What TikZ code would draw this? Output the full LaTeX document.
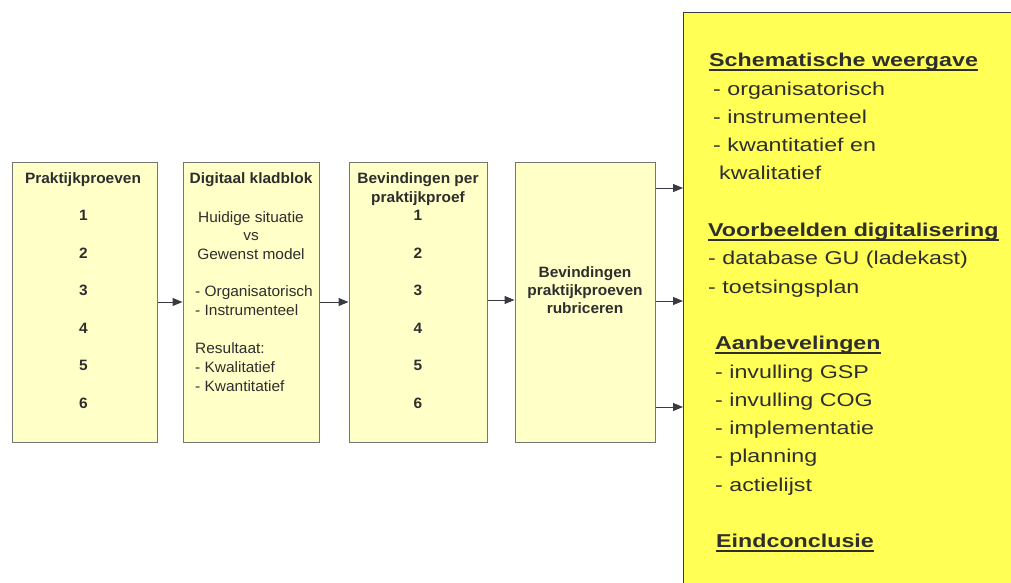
\documentclass[tikz,border=0pt]{standalone}
\usepackage{fontspec}
\usetikzlibrary{arrows.meta}
\newfontfamily\boxfont[FakeStretch=1.03]{Liberation Sans}
\newfontfamily\yfont[FakeStretch=1.25]{Liberation Sans}
\definecolor{pale}{HTML}{FFFFC8}
\definecolor{ylw}{HTML}{FFFF55}
\definecolor{boxgray}{HTML}{757575}
\definecolor{txtgray}{HTML}{2E2E2E}
\definecolor{arrgray}{HTML}{3A3A42}
\begin{document}
\begin{tikzpicture}[x=1pt,y=-1pt,
  pbox/.style={draw=boxgray, fill=pale, line width=1pt, inner sep=0pt, minimum height=280pt},
  ybox/.style={draw=arrgray, fill=ylw, line width=1pt, inner sep=0pt, anchor=north west, minimum width=380pt, minimum height=620pt},
  bt/.style={inner sep=0pt, anchor=base, text=txtgray, font=\boxfont\fontsize{15}{19}\selectfont},
  bth/.style={inner sep=0pt, anchor=base, text=txtgray, font=\boxfont\bfseries\fontsize{15}{19}\selectfont},
  btl/.style={bt, anchor=base west},
  yt/.style={inner sep=0pt, anchor=base west, text=txtgray, font=\yfont\fontsize{18.6}{28}\selectfont},
  yth/.style={inner sep=0pt, anchor=base west, text=txtgray, font=\yfont\bfseries\fontsize{18.6}{28}\selectfont},
  uline/.style={draw=txtgray, line width=1.6pt},
  arr/.style={draw=arrgray, line width=1pt, -{Triangle[length=10pt,width=8pt]}}
]
\useasboundingbox (0,0) rectangle (1011,582);
\fill[white] (0,0) rectangle (1011,582);

% boxes
\node[pbox, minimum width=145pt] (b1) at (84.5,302) {};
\node[pbox, minimum width=136pt] (b2) at (251,302) {};
\node[pbox, minimum width=138pt] (b3) at (418,302) {};
\node[pbox, minimum width=140pt] (b4) at (585,302) {};
\node[ybox] (yel) at (683,12) {};

% box 1
\node[bth] (h1) at (83,183) {Praktijkproeven};
\foreach \n in {1,...,6}
  \node[bth] (pa\n) at (83.5,{220.5+37.6*(\n-1)}) {\n};

% box 2
\node[bth] (h2) at (251,183) {Digitaal kladblok};
\node[bt] (d1) at (251,222) {Huidige situatie};
\node[bt] (d2) at (251,240.5) {vs};
\node[bt] (d3) at (251,259) {Gewenst model};
\node[btl] (d4) at (195,296) {- Organisatorisch};
\node[btl] (d5) at (195,315.5) {- Instrumenteel};
\node[btl] (d6) at (195,353) {Resultaat:};
\node[btl] (d7) at (195,372) {- Kwalitatief};
\node[btl] (d8) at (195,391) {- Kwantitatief};

% box 3
\node[bth] (h3a) at (418,183) {Bevindingen per};
\node[bth] (h3b) at (418,202) {praktijkproef};
\foreach \n in {1,...,6}
  \node[bth] (pb\n) at (418,{220.5+37.6*(\n-1)}) {\n};

% box 4
\node[bth] (e1) at (585,277) {Bevindingen};
\node[bth] (e2) at (585,295) {praktijkproeven};
\node[bth] (e3) at (585,313) {rubriceren};

% yellow box text
\node[yth] (s1) at (709,66.7) {Schematische weergave};
\node[yt] (s2) at (713,{66.7+28.3*1}) {- organisatorisch};
\node[yt] (s3) at (713,{66.7+28.3*2}) {- instrumenteel};
\node[yt] (s4) at (713,{66.7+28.3*3}) {- kwantitatief en};
\node[yt] (s5) at (719,{66.7+28.3*4}) {kwalitatief};
\node[yth] (v1) at (708,{66.7+28.3*6}) {Voorbeelden digitalisering};
\node[yt] (v2) at (708,{66.7+28.3*7}) {- database GU (ladekast)};
\node[yt] (v3) at (708,{66.7+28.3*8}) {- toetsingsplan};
\node[yth] (a1) at (715,{66.7+28.3*10}) {Aanbevelingen};
\node[yt] (a2) at (715,{66.7+28.3*11}) {- invulling GSP};
\node[yt] (a3) at (715,{66.7+28.3*12}) {- invulling COG};
\node[yt] (a4) at (715,{66.7+28.3*13}) {- implementatie};
\node[yt] (a5) at (715,{66.7+28.3*14}) {- planning};
\node[yt] (a6) at (715,{66.7+28.3*15}) {- actielijst};
\node[yth] (c1) at (716,{66.7+28.3*17}) {Eindconclusie};

\foreach \h in {s1,v1,a1,c1}
  \draw[uline] ([yshift=-3.2pt]\h.base west) -- ([yshift=-3.2pt]\h.base east);

% connectors
\coordinate (ya) at (0,302);
\coordinate (yb) at (0,300);
\coordinate (r1) at (0,188);
\coordinate (r2) at (0,301);
\coordinate (r3) at (0,407);
\draw[arr] (b1.east |- ya) -- (b2.west |- ya);
\draw[arr] (b2.east |- ya) -- (b3.west |- ya);
\draw[arr] (b3.east |- yb) -- (b4.west |- yb);
\draw[arr] (b4.east |- r1) -- (yel.west |- r1);
\draw[arr] (b4.east |- r2) -- (yel.west |- r2);
\draw[arr] (b4.east |- r3) -- (yel.west |- r3);
\end{tikzpicture}
\end{document}
